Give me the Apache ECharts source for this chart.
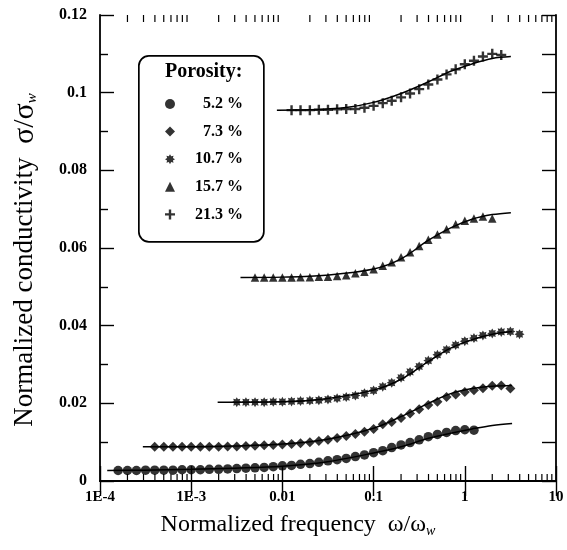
<!DOCTYPE html>
<html>
<head>
<meta charset="utf-8">
<script src="https://cdn.jsdelivr.net/npm/echarts@6/dist/echarts.min.js"></script>
<style>html,body{margin:0;padding:0;background:#fff;}#c{width:567px;height:550px;}</style>
</head>
<body>
<div id="c"></div>
<script>
// ---------- DATA ----------
// Measurement frequencies, 10 points per decade (normalized frequency)
var freqGrid = [1.58e-4, 2.00e-4, 2.51e-4, 3.16e-4, 3.98e-4, 5.01e-4, 6.31e-4, 7.94e-4,
  1.00e-3, 1.26e-3, 1.58e-3, 2.00e-3, 2.51e-3, 3.16e-3, 3.98e-3, 5.01e-3, 6.31e-3, 7.94e-3,
  1.00e-2, 1.26e-2, 1.58e-2, 2.00e-2, 2.51e-2, 3.16e-2, 3.98e-2, 5.01e-2, 6.31e-2, 7.94e-2,
  0.100, 0.126, 0.158, 0.200, 0.251, 0.316, 0.398, 0.501, 0.631, 0.794,
  1.00, 1.26, 1.58, 2.00, 2.51, 3.16, 3.98];

var seriesNames = ['5.2 %', '7.3 %', '10.7 %', '15.7 %', '21.3 %'];
// first frequency of each measured series, as an index into freqGrid
var seriesStart = [0, 4, 13, 15, 19];

var sigma52 = [0.0027,0.0027,0.0027,0.0028,0.0028,0.0028,0.0028,0.0029,0.0029,0.0029,
  0.0030,0.0030,0.0031,0.0032,0.0033,0.0034,0.0035,0.0037,0.0039,0.0040,
  0.0043,0.0045,0.0048,0.0052,0.0055,0.0058,0.0063,0.0067,0.0073,0.0078,
  0.0086,0.0093,0.0099,0.0106,0.0114,0.0120,0.0125,0.0130,0.0132,0.0131];
var sigma73 = [0.0088,0.0088,0.0088,0.0088,0.0088,0.0088,0.0088,0.0088,0.0089,0.0089,
  0.0090,0.0091,0.0092,0.0093,0.0094,0.0095,0.0097,0.0100,0.0103,0.0106,
  0.0111,0.0116,0.0121,0.0127,0.0134,0.0146,0.0152,0.0162,0.0174,0.0185,
  0.0196,0.0204,0.0216,0.0223,0.0229,0.0234,0.0239,0.0245,0.0246,0.0238];
var sigma107 = [0.0203,0.0203,0.0203,0.0203,0.0204,0.0204,0.0205,0.0206,0.0207,0.0208,
  0.0210,0.0213,0.0216,0.0220,0.0226,0.0233,0.0243,0.0253,0.0266,0.0281,
  0.0295,0.0310,0.0325,0.0338,0.0350,0.0360,0.0368,0.0375,0.0380,0.0384,
  0.0385,0.0378];
var sigma157 = [0.0524,0.0524,0.0524,0.0524,0.0524,0.0525,0.0525,0.0526,0.0526,0.0528,
  0.0530,0.0535,0.0539,0.0545,0.0554,0.0563,0.0576,0.0589,0.0605,0.0621,
  0.0635,0.0648,0.0661,0.0670,0.0676,0.0681,0.0676];
var sigma213 = [0.0955,0.0955,0.0955,0.0956,0.0956,0.0957,0.0958,0.0958,0.0961,0.0966,
  0.0973,0.0979,0.0988,0.0998,0.1009,0.1021,0.1034,0.1047,0.1060,0.1073,
  0.1082,0.1093,0.1100,0.1097];

// fitted model curves [frequency, sigma/sigma_w]
var fit52 = [[1.2e-4,0.0027],[3e-4,0.0028],[1e-3,0.0030],[3e-3,0.0033],[0.01,0.0038],[0.03,0.0049],
  [0.1,0.0072],[0.2,0.0088],[0.4,0.0110],[0.7,0.0123],[1.2,0.0134],[2,0.0143],[3.3,0.0148]];
var fit73 = [[2.95e-4,0.0088],[1e-3,0.0088],[3e-3,0.0090],[0.01,0.0095],[0.03,0.0107],[0.1,0.0136],
  [0.2,0.0166],[0.4,0.0200],[0.7,0.0225],[1.2,0.0238],[2,0.0244],[3.3,0.0246]];
var fit107 = [[1.95e-3,0.0203],[0.01,0.0204],[0.03,0.0212],[0.1,0.0234],[0.2,0.0262],[0.4,0.0308],
  [0.7,0.0342],[1.2,0.0364],[2,0.0378],[3.3,0.0385]];
var fit157 = [[3.47e-3,0.0524],[0.01,0.0525],[0.03,0.0530],[0.1,0.0546],[0.2,0.0572],[0.4,0.0620],
  [0.7,0.0652],[1.2,0.0674],[2,0.0686],[3.2,0.0691]];
var fit213 = [[8.7e-3,0.0955],[0.02,0.0956],[0.05,0.0962],[0.1,0.0975],[0.2,0.0998],[0.4,0.1028],
  [0.7,0.1055],[1.2,0.1074],[2,0.1088],[3.2,0.1093]];

var xTickLabels = ['1E-4', '1E-3', '0.01', '0.1', '1', '10'];
var yTickLabels = ['0', '0.02', '0.04', '0.06', '0.08', '0.1', '0.12'];
var minorTickMantissas = [2, 3, 4, 5, 6, 7, 8, 9];
var decades = [1e-4, 1e-3, 1e-2, 1e-1, 1];

// ---------- CHART ----------
var FONT = '"Liberation Serif", "DejaVu Serif", serif';
var measured = [sigma52, sigma73, sigma107, sigma157, sigma213];
var fits = [fit52, fit73, fit107, fit157, fit213];
var symbols = [
  'circle',
  'diamond',
  'path://M5,0 L2.9,1.2 L3.54,3.54 L1.2,2.9 L0,5 L-1.2,2.9 L-3.54,3.54 L-2.9,1.2 L-5,0 L-2.9,-1.2 L-3.54,-3.54 L-1.2,-2.9 L0,-5 L1.2,-2.9 L3.54,-3.54 L2.9,-1.2 Z',
  'triangle',
  'path://M3.8,0 H6.2 V3.8 H10 V6.2 H6.2 V10 H3.8 V6.2 H0 V3.8 H3.8 Z'
];
var symbolSizes = [9.5, 10, 10, 8.5, 10];

var minorTicks = [];
decades.forEach(function (d) {
  minorTickMantissas.forEach(function (m) { minorTicks.push([m * d, 0]); });
});

var series = [];
measured.forEach(function (vals, s) {
  series.push({
    name: seriesNames[s],
    type: 'scatter',
    symbol: symbols[s],
    symbolSize: symbolSizes[s],
    itemStyle: { color: '#000' },
    data: vals.map(function (v, i) { return [freqGrid[seriesStart[s] + i], v]; }),
    z: 3
  });
  series.push({
    name: 'fit ' + seriesNames[s],
    type: 'line',
    smooth: 0.35,
    showSymbol: false,
    lineStyle: { color: '#000', width: 1.5 },
    data: fits[s],
    z: 2
  });
});
series.push({
  type: 'custom',
  silent: true,
  clip: false,
  data: minorTicks,
  encode: { x: 0, y: 1 },
  renderItem: function (params, api) {
    var b = api.coord([api.value(0), 0]);
    var t = api.coord([api.value(0), 0.12]);
    return {
      type: 'group',
      children: [
        { type: 'line', shape: { x1: b[0], y1: b[1], x2: b[0], y2: b[1] - 7 }, style: { stroke: '#000', lineWidth: 1.2 } },
        { type: 'line', shape: { x1: t[0], y1: t[1], x2: t[0], y2: t[1] + 7 }, style: { stroke: '#000', lineWidth: 1.2 } }
      ]
    };
  },
  z: 1
});

var axisLineStyle = { color: '#000', width: 1.8 };
var chart = echarts.init(document.getElementById('c'), null, { renderer: 'canvas' });
chart.setOption({
  backgroundColor: '#fff',
  animation: false,
  grid: { left: 100, right: 11, top: 15, bottom: 69 },
  xAxis: [{
    type: 'log', logBase: 10, min: 1e-4, max: 10,
    axisLine: { lineStyle: axisLineStyle },
    axisTick: { inside: true, length: 15, lineStyle: { color: '#000', width: 1.4 } },
    splitLine: { show: false },
    axisLabel: {
      margin: 9, color: '#000', fontFamily: FONT, fontWeight: 'bold', fontSize: 15,
      formatter: function (v) { return xTickLabels[Math.round(Math.log10(v)) + 4]; }
    },
    name: 'Normalized frequency  ω/ω{sub|w}',
    nameLocation: 'middle', nameGap: 31,
    nameTextStyle: {
      color: '#000', fontFamily: FONT, fontSize: 24, padding: [0, 60, 0, 0],
      rich: { sub: { fontSize: 14, fontStyle: 'italic', fontFamily: FONT, verticalAlign: 'bottom', padding: [12, 0, 0, 0] } }
    }
  }, {
    type: 'log', logBase: 10, min: 1e-4, max: 10, position: 'top',
    axisLine: { lineStyle: axisLineStyle },
    axisTick: { inside: true, length: 15, lineStyle: { color: '#000', width: 1.4 } },
    splitLine: { show: false },
    axisLabel: { show: false }
  }],
  yAxis: [{
    type: 'value', min: 0, max: 0.12, interval: 0.02,
    axisLine: { show: true, lineStyle: axisLineStyle },
    axisTick: { inside: true, length: 14, lineStyle: { color: '#000', width: 1.4 } },
    minorTick: { show: true, splitNumber: 2, length: 8, lineStyle: { color: '#000', width: 1.4 } },
    splitLine: { show: false },
    axisLabel: {
      margin: 13, color: '#000', fontFamily: FONT, fontWeight: 'bold', fontSize: 16,
      formatter: function (v) { return yTickLabels[Math.round(v / 0.02)]; }
    },
    name: 'Normalized conductivity  {g|σ/σ}{sub|w}',
    nameLocation: 'middle', nameGap: 60, nameRotate: 90,
    nameTextStyle: {
      color: '#000', fontFamily: FONT, fontSize: 27, padding: [0, 24, 0, 0],
      rich: {
        g: { fontSize: 30, fontFamily: FONT },
        sub: { fontSize: 15, fontStyle: 'italic', fontFamily: FONT, verticalAlign: 'bottom', padding: [13, 0, 0, 0] }
      }
    }
  }, {
    type: 'value', min: 0, max: 0.12, interval: 0.02, position: 'right',
    axisLine: { show: true, lineStyle: axisLineStyle },
    axisTick: { inside: true, length: 14, lineStyle: { color: '#000', width: 1.4 } },
    minorTick: { show: true, splitNumber: 2, length: 14, lineStyle: { color: '#000', width: 1.4 } },
    splitLine: { show: false },
    axisLabel: { show: false }
  }],
  legend: {
    data: seriesNames,
    orient: 'vertical',
    left: 165, top: 96,
    itemWidth: 10, itemHeight: 10, itemGap: 11.6,
    padding: 0,
    selectedMode: false,
    formatter: function (n) { return '{a|' + n + '}'; },
    textStyle: {
      color: '#000', fontFamily: FONT, fontWeight: 'bold', fontSize: 16,
      rich: { a: { width: 63, align: 'right', color: '#000', fontFamily: FONT, fontWeight: 'bold', fontSize: 16 } }
    }
  },
  graphic: [{
    type: 'rect', left: 138, top: 55, z: 0,
    shape: { width: 125, height: 186, r: 10 },
    style: { fill: '#fff', stroke: '#000', lineWidth: 1.7 }
  }, {
    type: 'text', left: 165, top: 62, z: 10,
    style: { text: 'Porosity:', fill: '#000', font: 'bold 20px ' + FONT }
  }],
  series: series
});
</script>
</body>
</html>
